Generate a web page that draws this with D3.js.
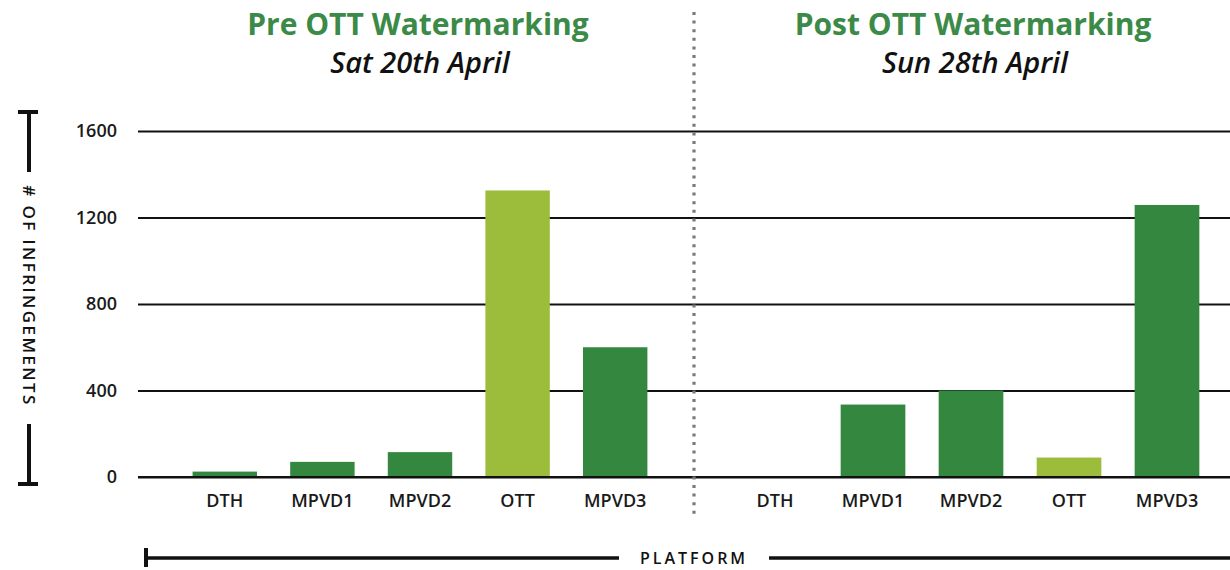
<!DOCTYPE html>
<html>
<head>
<meta charset="utf-8">
<script src="https://cdnjs.cloudflare.com/ajax/libs/d3/7.8.5/d3.min.js"></script>
<style>
	body { margin: 0; background: #fff; }
	svg { display: block; font-family: 'Open Sans', sans-serif; }
</style>
</head>
<body>
<div id="chart"></div>
<script>
// data
var categories = ['DTH', 'MPVD1', 'MPVD2', 'OTT', 'MPVD3'];
var preValues = [25, 70, 115, 1325, 600];
var postValues = [0, 335, 400, 90, 1258];
var yTicks = [0, 400, 800, 1200, 1600];
var panelTitles = ['Pre OTT Watermarking', 'Post OTT Watermarking'];
var panelDates = ['Sat 20th April', 'Sun 28th April'];

var width = 1230;
var height = 570;
var darkGreen = '#33873f';
var lightGreen = '#9bbd3b';
var titleGreen = '#3b8a47';

var svg = d3.select('#chart')
	.append('svg')
	.attr('width', width)
	.attr('height', height);

var y = d3.scaleLinear()
	.domain([0, 1600])
	.range([477, 131]);

var panels = [
	{values: preValues, range: [176, 664], title: panelTitles[0], date: panelDates[0], cx: 418},
	{values: postValues, range: [726, 1216], title: panelTitles[1], date: panelDates[1], cx: 973}
];

// gridlines + tick labels
var yAxis = d3.axisLeft(y)
	.tickValues(yTicks)
	.tickSize(-(width - 138))
	.tickPadding(21)
	.tickFormat(d3.format('d'));

var gy = svg.append('g')
	.attr('transform', 'translate(138,0)')
	.call(yAxis);
gy.select('.domain').remove();
gy.selectAll('.tick line')
	.attr('stroke', '#111')
	.attr('stroke-width', 2.2);
gy.selectAll('.tick text')
	.attr('fill', '#1a1a1a')
	.style('font-size', '18px')
	.style('font-weight', 600)
	.style('font-family', "'Open Sans', sans-serif");

panels.forEach(function(p){
	var x = d3.scaleBand()
		.domain(categories)
		.range(p.range)
		.paddingInner(0.34)
		.paddingOuter(0.17);

	svg.append('g')
		.selectAll('rect')
		.data(p.values)
		.enter()
		.append('rect')
		.attr('x', function(d, i){ return x(categories[i]); })
		.attr('width', x.bandwidth())
		.attr('y', function(d){ return y(d); })
		.attr('height', function(d){ return y(0) - y(d); })
		.attr('fill', function(d, i){
			return categories[i] === 'OTT' ? lightGreen : darkGreen;
		});

	var xAxis = d3.axisBottom(x)
		.tickSize(0)
		.tickPadding(17);

	var gx = svg.append('g')
		.attr('transform', 'translate(0,' + y(0) + ')')
		.call(xAxis);
	gx.select('.domain').remove();
	gx.selectAll('.tick text')
		.attr('fill', '#1a1a1a')
		.style('font-size', '18px')
		.style('font-weight', 600)
		.style('font-family', "'Open Sans', sans-serif");

	svg.append('text')
		.attr('x', p.cx)
		.attr('y', 35)
		.attr('text-anchor', 'middle')
		.attr('fill', titleGreen)
		.style('font-size', '30px')
		.style('font-weight', 700)
		.text(p.title);

	svg.append('text')
		.attr('x', p.cx + 2)
		.attr('y', 73)
		.attr('text-anchor', 'middle')
		.attr('fill', '#111')
		.style('font-size', '29px')
		.style('font-weight', 600)
		.style('font-style', 'italic')
		.text(p.date);
});

// redraw baseline over the bars
svg.append('line')
	.attr('x1', 138).attr('x2', width)
	.attr('y1', y(0)).attr('y2', y(0))
	.attr('stroke', '#111')
	.attr('stroke-width', 2.2);

// dotted divider
svg.append('line')
	.attr('x1', 694).attr('x2', 694)
	.attr('y1', 12).attr('y2', 514)
	.attr('stroke', '#7a7a7a')
	.attr('stroke-width', 3.2)
	.attr('stroke-dasharray', '3,5.6');

// y axis label with bracket
var yl = svg.append('g');
yl.append('line')
	.attr('x1', 18).attr('x2', 38)
	.attr('y1', 112).attr('y2', 112)
	.attr('stroke', '#111').attr('stroke-width', 4);
yl.append('line')
	.attr('x1', 29).attr('x2', 29)
	.attr('y1', 112).attr('y2', 172)
	.attr('stroke', '#111').attr('stroke-width', 4);
yl.append('line')
	.attr('x1', 29).attr('x2', 29)
	.attr('y1', 424).attr('y2', 484)
	.attr('stroke', '#111').attr('stroke-width', 4);
yl.append('line')
	.attr('x1', 18).attr('x2', 38)
	.attr('y1', 484).attr('y2', 484)
	.attr('stroke', '#111').attr('stroke-width', 4);
yl.append('text')
	.attr('transform', 'translate(23,296) rotate(90)')
	.attr('text-anchor', 'middle')
	.attr('fill', '#111')
	.style('font-size', '17px')
	.style('font-weight', 600)
	.style('letter-spacing', '2.4px')
	.text('# OF INFRINGEMENTS');

// x axis label with bracket
var platY = 558;
var xl = svg.append('g');
xl.append('line')
	.attr('x1', 146).attr('x2', 146)
	.attr('y1', platY - 10).attr('y2', platY + 9)
	.attr('stroke', '#111').attr('stroke-width', 4);
xl.append('line')
	.attr('x1', 146).attr('x2', 619)
	.attr('y1', platY).attr('y2', platY)
	.attr('stroke', '#111').attr('stroke-width', 3.5);
xl.append('line')
	.attr('x1', 769).attr('x2', width)
	.attr('y1', platY).attr('y2', platY)
	.attr('stroke', '#111').attr('stroke-width', 3.5);
xl.append('text')
	.attr('x', 694)
	.attr('y', platY)
	.attr('text-anchor', 'middle')
	.attr('dominant-baseline', 'central')
	.attr('fill', '#111')
	.style('font-size', '16px')
	.style('font-weight', 600)
	.style('letter-spacing', '3px')
	.text('PLATFORM');
</script>
</body>
</html>
